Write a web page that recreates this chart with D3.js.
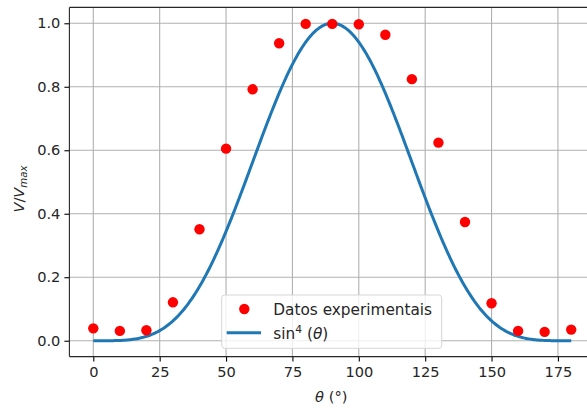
<!DOCTYPE html>
<html>
<head>
<meta charset="utf-8">
<script src="https://cdn.jsdelivr.net/npm/d3@7"></script>
<style>
  html, body { margin: 0; padding: 0; background: #fff; }
  svg { display: block; font-family: "DejaVu Sans", sans-serif; }
</style>
</head>
<body>
<svg id="chart" width="587" height="408"></svg>
<script>
// Measured angles (degrees) and normalised voltage V/Vmax
const angles = [0, 10, 20, 30, 40, 50, 60, 70, 80, 90, 100, 110, 120, 130, 140, 150, 160, 170, 180];
const voltages = [0.039, 0.031, 0.033, 0.121, 0.351, 0.605, 0.792, 0.937, 0.998, 0.998, 0.997, 0.964, 0.824, 0.624, 0.374, 0.118, 0.031, 0.028, 0.035];

const xTicks = [0, 25, 50, 75, 100, 125, 150, 175];
const yTicks = [0.0, 0.2, 0.4, 0.6, 0.8, 1.0];

const seriesLabels = ["Datos experimentais", "sin⁴(θ)"];

// Theoretical model sin^4(theta) sampled densely over 0..180 degrees
const modelTheta = d3.range(0, 180.0001, 0.5);
const model = modelTheta.map(t => ({ t, v: Math.pow(Math.sin(t * Math.PI / 180), 4) }));

const svg = d3.select("#chart");
const plot = { left: 69.4, right: 595.1, top: 7.4, bottom: 356.6 };

const x = d3.scaleLinear().domain([-9, 189]).range([plot.left, plot.right]);
const y = d3.scaleLinear().domain([-0.05, 1.05]).range([plot.bottom, plot.top]);

const fontSize = 14.6;
const legendFont = 15.3;
const grid = svg.append("g");

// Grid lines
grid.selectAll(".gx").data(xTicks).join("line")
  .attr("x1", d => x(d)).attr("x2", d => x(d))
  .attr("y1", plot.top).attr("y2", plot.bottom)
  .attr("stroke", "#b0b0b0").attr("stroke-width", 1.1);
grid.selectAll(".gy").data(yTicks).join("line")
  .attr("y1", d => y(d)).attr("y2", d => y(d))
  .attr("x1", plot.left).attr("x2", plot.right)
  .attr("stroke", "#b0b0b0").attr("stroke-width", 1.1);

// Model curve
const line = d3.line().x(d => x(d.t)).y(d => y(d.v));
svg.append("path").datum(model)
  .attr("d", line)
  .attr("fill", "none")
  .attr("stroke", "#1f77b4")
  .attr("stroke-width", 3)
  .attr("stroke-linejoin", "round")
  .attr("stroke-linecap", "butt");

// Experimental points
svg.selectAll(".pt").data(angles).join("circle")
  .attr("cx", d => x(d))
  .attr("cy", (d, i) => y(voltages[i]))
  .attr("r", 5.2)
  .attr("fill", "#ff0000");

// Axes
const xAxis = d3.axisBottom(x).tickValues(xTicks).tickSize(5).tickPadding(5).tickFormat(d3.format("d"));
const yAxis = d3.axisLeft(y).tickValues(yTicks).tickSize(5).tickPadding(4).tickFormat(d3.format(".1f"));

const gx = svg.append("g").attr("transform", `translate(0,${plot.bottom})`).call(xAxis);
const gy = svg.append("g").attr("transform", `translate(${plot.left},0)`).call(yAxis);
[gx, gy].forEach(g => {
  g.select(".domain").remove();
  g.selectAll(".tick line").attr("stroke", "#000").attr("stroke-width", 1.1);
  g.selectAll(".tick text").attr("fill", "#262626").attr("font-size", fontSize)
    .attr("font-family", "DejaVu Sans, sans-serif");
});

// Spines
svg.append("line").attr("x1", plot.left).attr("x2", plot.left).attr("y1", plot.top).attr("y2", plot.bottom)
  .attr("stroke", "#262626").attr("stroke-width", 1.1);
svg.append("line").attr("x1", plot.left).attr("x2", plot.right).attr("y1", plot.bottom).attr("y2", plot.bottom)
  .attr("stroke", "#262626").attr("stroke-width", 1.1);
svg.append("line").attr("x1", plot.left).attr("x2", plot.right).attr("y1", plot.top).attr("y2", plot.top)
  .attr("stroke", "#262626").attr("stroke-width", 1.1);

// Axis labels
const xl = svg.append("text")
  .attr("x", (x(-9) + x(189)) / 2 - 1).attr("y", 402)
  .attr("text-anchor", "middle").attr("font-size", fontSize).attr("fill", "#262626");
xl.append("tspan").attr("font-style", "italic").text("θ");
xl.append("tspan").text(" (°)");

const yl = svg.append("text")
  .attr("transform", "translate(24,189) rotate(-90)")
  .attr("text-anchor", "middle").attr("font-size", fontSize).attr("fill", "#262626");
yl.append("tspan").attr("font-style", "italic").text("V");
yl.append("tspan").text("/");
yl.append("tspan").attr("font-style", "italic").text("V");
yl.append("tspan").attr("font-style", "italic").attr("font-size", fontSize * 0.7).attr("dy", 3).text("max");

// Legend
const lg = svg.append("g");
lg.append("rect")
  .attr("x", 221.7).attr("y", 295).attr("width", 220).attr("height", 53.3)
  .attr("rx", 3).attr("fill", "#fff").attr("fill-opacity", 0.8)
  .attr("stroke", "#d6d6d6").attr("stroke-width", 1);
lg.append("circle").attr("cx", 244.3).attr("cy", 309).attr("r", 5.2).attr("fill", "#ff0000");
lg.append("line").attr("x1", 226.7).attr("x2", 261).attr("y1", 332.7).attr("y2", 332.7)
  .attr("stroke", "#1f77b4").attr("stroke-width", 3);
lg.append("text").attr("x", 273.3).attr("y", 314.5).attr("font-size", legendFont).attr("fill", "#262626")
  .text(seriesLabels[0]);
const l2 = lg.append("text").attr("x", 273.3).attr("y", 338.5).attr("font-size", legendFont).attr("fill", "#262626");
l2.append("tspan").text("sin");
l2.append("tspan").attr("font-size", legendFont * 0.7).attr("dy", -6).text("4");
l2.append("tspan").attr("dy", 6).text(" (");
l2.append("tspan").attr("font-style", "italic").text("θ");
l2.append("tspan").text(")");
</script>
</body>
</html>
